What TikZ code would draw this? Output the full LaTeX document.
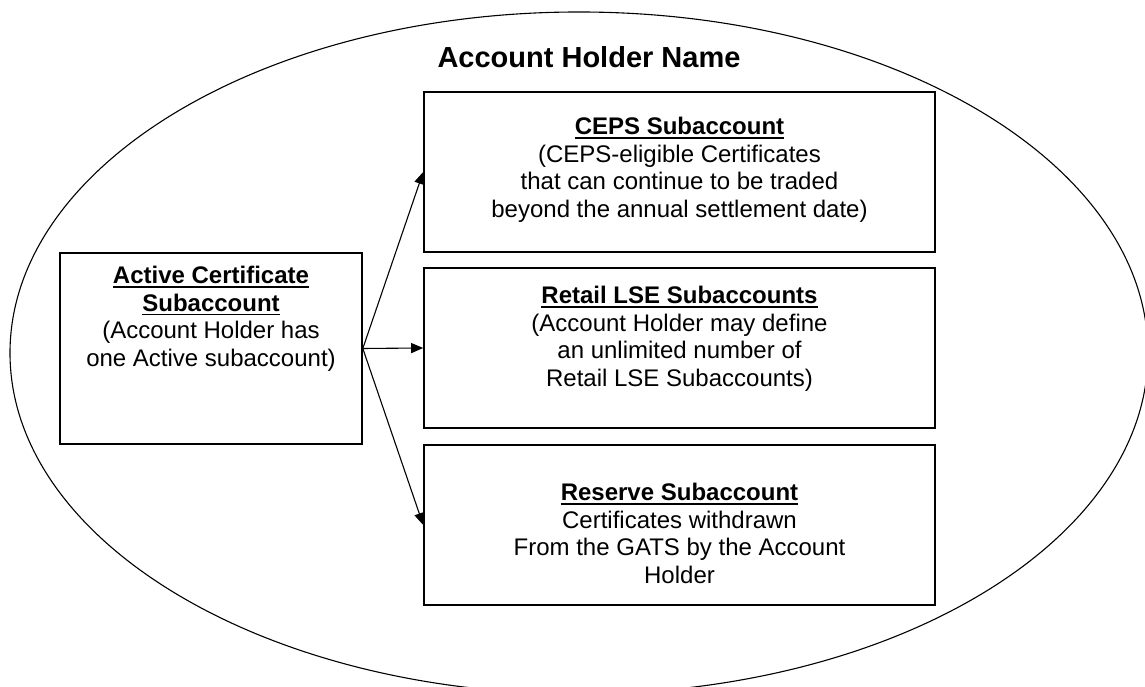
\documentclass[tikz,border=0pt]{standalone}
\usepackage{fontspec}
\setmainfont{Liberation Sans}
\usetikzlibrary{arrows.meta}
\newcommand{\headul}[1]{\setbox0\hbox{\bfseries #1}\leavevmode\rlap{\rule[-4pt]{\wd0}{1.7pt}}\box0}
\begin{document}
\begin{tikzpicture}[
    x=1pt, y=1pt,
    acctbox/.style={rectangle, draw, line width=1.6pt, minimum width=511pt, minimum height=160pt, inner sep=0pt},
    boxtext/.style={anchor=north, align=center, inner sep=0pt, font=\fontsize{24}{27.6}\selectfont}, % text hangs from the box top
    flowarrow/.style={-{Triangle[length=12pt,width=10pt]}, line width=1.1pt}
    ]
    \useasboundingbox (0,0) rectangle (1145,687);
    \clip (0,0) rectangle (1145,687);
    \draw[line width=1.1pt] (579,334) ellipse [x radius=569pt, y radius=341pt];
    \node[font=\fontsize{29}{33}\selectfont\bfseries] (title) at (589,630) {Account Holder Name};
    % boxes
    \node[acctbox, minimum width=302pt, minimum height=191pt] (active) at (211,338.5) {};
    \node[acctbox] (ceps) at (679.5,515) {};
    \node[acctbox] (retail) at (679.5,339) {};
    \node[acctbox] (reserve) at (679.5,162) {};
    % texts
    \node[boxtext] (activetxt) at ([yshift=-14pt]active.north) {\headul{Active Certificate}\\\headul{Subaccount}\\(Account Holder has\\one Active subaccount)};
    \node[boxtext] (cepstxt) at ([yshift=-26pt]ceps.north) {\headul{CEPS Subaccount}\\(CEPS-eligible Certificates\\that can continue to be traded\\beyond the annual settlement date)};
    \node[boxtext] (retailtxt) at ([yshift=-19pt]retail.north) {\headul{Retail LSE Subaccounts}\\(Account Holder may define\\an unlimited number of\\Retail LSE Subaccounts)};
    \node[boxtext] (reservetxt) at ([yshift=-39pt]reserve.north) {\headul{Reserve Subaccount}\\Certificates withdrawn\\From the GATS by the Account\\Holder};
    % arrows
    \draw[flowarrow] (active.east) -- (ceps.west);
    \draw[flowarrow] (active.east) -- (retail.west);
    \draw[flowarrow] (active.east) -- (reserve.west);
\end{tikzpicture}
\end{document}
